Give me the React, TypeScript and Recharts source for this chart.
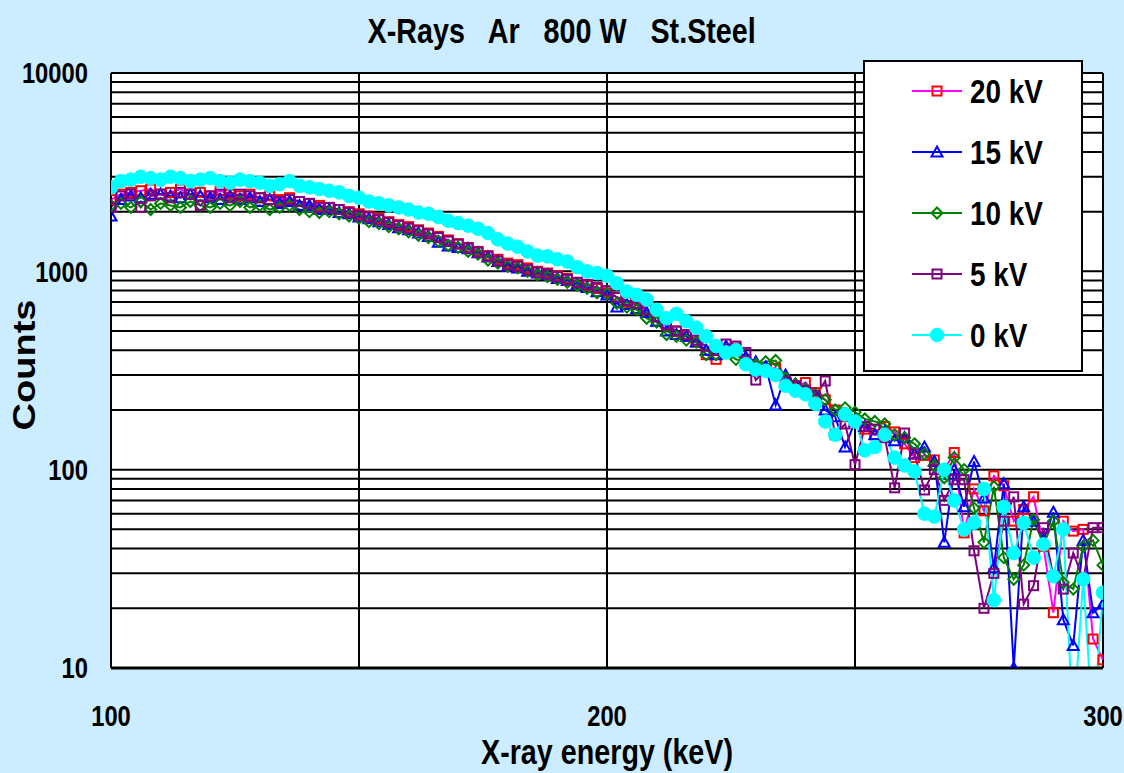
import { CartesianGrid, Label, Legend, Line, LineChart, XAxis, YAxis } from "recharts";

// Energy channels (keV) and measured counts for each bias voltage
const energyKeV = [
  100, 102, 104, 106, 108, 110, 112, 114, 116, 118,
  120, 122, 124, 126, 128, 130, 132, 134, 136, 138,
  140, 142, 144, 146, 148, 150, 152, 154, 156, 158,
  160, 162, 164, 166, 168, 170, 172, 174, 176, 178,
  180, 182, 184, 186, 188, 190, 192, 194, 196, 198,
  200, 202, 204, 206, 208, 210, 212, 214, 216, 218,
  220, 222, 224, 226, 228, 230, 232, 234, 236, 238,
  240, 242, 244, 246, 248, 250, 252, 254, 256, 258,
  260, 262, 264, 266, 268, 270, 272, 274, 276, 278,
  280, 282, 284, 286, 288, 290, 292, 294, 296, 298,
  300,
];

const counts20kV = [
  2300, 2450, 2500, 2550, 2600, 2450, 2500, 2600, 2450, 2500,
  2400, 2550, 2450, 2400, 2450, 2350, 2400, 2300, 2350, 2250,
  2200, 2150, 2100, 2050, 2000, 1950, 1900, 1850, 1780, 1720,
  1680, 1620, 1560, 1500, 1440, 1380, 1320, 1260, 1200, 1150,
  1100, 1080, 1040, 1000, 980, 950, 920, 880, 850, 820,
  780, 740, 700, 720, 640, 560, 530, 500, 470, 440,
  380, 360, 400, 410, 360, 330, 320, 325, 270, 260,
  275, 245, 225, 200, 185, 175, 160, 150, 165, 155,
  135, 115, 118, 112, 100, 122, 48, 80, 62, 93,
  83, 55, 63, 73, 41, 19, 55, 49, 50, 14,
  11,
];

const counts15kV = [
  1900, 2300, 2400, 2350, 2450, 2450, 2400, 2350, 2450, 2400,
  2350, 2300, 2400, 2300, 2350, 2250, 2300, 2200, 2250, 2150,
  2150, 2050, 2050, 1980, 1950, 1880, 1840, 1780, 1720, 1660,
  1620, 1560, 1500, 1400, 1340, 1320, 1300, 1240, 1180, 1120,
  1060, 1040, 1000, 980, 960, 920, 900, 860, 830, 790,
  760, 660, 680, 650, 620, 560, 500, 480, 470, 440,
  400, 380, 420, 400, 370, 350, 330, 212, 300, 270,
  255, 240, 200, 185, 130, 175, 165, 150, 155, 140,
  145, 120, 130, 110, 43, 100, 65, 110, 72, 32,
  85, 10, 65, 55, 44, 61, 17.5, 13, 44, 19,
  21,
];

const counts10kV = [
  2150, 2200, 2100, 2250, 2050, 2200, 2150, 2100, 2250, 2150,
  2100, 2200, 2150, 2250, 2100, 2150, 2050, 2100, 2150, 2050,
  2000, 1980, 2000, 1950, 1900, 1850, 1780, 1740, 1680, 1640,
  1580, 1520, 1480, 1420, 1350, 1320, 1260, 1220, 1140, 1100,
  1060, 1040, 1000, 960, 940, 910, 880, 850, 820, 780,
  770, 690, 660, 640, 580, 555, 480, 470, 450, 440,
  380, 380, 390, 360, 350, 340, 350, 355, 290, 270,
  255, 240, 225, 200, 205, 195, 180, 175, 170, 150,
  145, 135, 120, 105, 91, 115, 100, 64, 43, 82,
  36, 28, 33, 56, 42, 55, 27, 25, 41, 44,
  33,
];

const counts5kV = [
  2100, 2400, 2450, 2100, 2400, 2450, 2350, 2500, 2450, 2150,
  2400, 2450, 2350, 2450, 2400, 2350, 2300, 2250, 2300, 2250,
  2200, 2100, 2100, 2050, 1980, 1920, 1880, 1820, 1760, 1700,
  1650, 1600, 1540, 1480, 1420, 1370, 1310, 1250, 1190, 1130,
  1080, 1060, 1020, 990, 970, 940, 910, 880, 860, 830,
  800, 740, 710, 690, 640, 590, 540, 500, 480, 450,
  420, 400, 430, 420, 390, 283, 320, 305, 280, 265,
  250, 235, 280, 150, 170, 106, 165, 160, 145, 81,
  153, 120, 79, 100, 70, 89, 89, 39, 20, 30,
  55, 73, 21, 26, 51, 29, 25, 38, 28, 51,
  51,
];

// 0 kV: values of 5 are channels that fell to zero (drawn running off the bottom)
const counts0kV = [
  2650, 2850, 2900, 3000, 2950, 2900, 3000, 2950, 2850, 2900,
  2950, 2850, 2800, 2900, 2850, 2800, 2700, 2750, 2850, 2700,
  2650, 2600, 2550, 2500, 2400, 2350, 2250, 2200, 2150, 2100,
  2050, 1980, 1950, 1880, 1800, 1750, 1700, 1640, 1560, 1450,
  1380, 1330, 1260, 1200, 1190, 1150, 1120, 1050, 1000, 980,
  950, 870, 790, 760, 720, 640, 580, 610, 560, 520,
  470, 420, 390, 400, 340, 320, 315, 300, 265, 250,
  240, 215, 175, 150, 190, 175, 125, 130, 150, 115,
  105, 98, 60, 58, 100, 70, 50, 54, 80, 22,
  65, 38, 54, 36, 42, 29, 50, 5, 28, 5,
  24,
];

const yTicks = [
  10, 20, 30, 40, 50, 60, 70, 80, 90,
  100, 200, 300, 400, 500, 600, 700, 800, 900,
  1000, 2000, 3000, 4000, 5000, 6000, 7000, 8000, 9000,
  10000,
];
const yLabelled = [10, 100, 1000, 10000];
const xTicks = [100, 150, 200, 250, 300];
const xLabelled = [100, 200, 300];

type Shape = "square" | "triangle" | "diamond" | "circle";

const SERIES: { key: string; name: string; line: string; marker: string; shape: Shape }[] = [
  { key: "kv20", name: "20 kV", line: "#ff00ff", marker: "#ff0000", shape: "square" },
  { key: "kv15", name: "15 kV", line: "#0000ff", marker: "#0000ff", shape: "triangle" },
  { key: "kv10", name: "10 kV", line: "#008000", marker: "#008000", shape: "diamond" },
  { key: "kv5", name: "5 kV", line: "#800080", marker: "#800080", shape: "square" },
  { key: "kv0", name: "0 kV", line: "#00ffff", marker: "#00ffff", shape: "circle" },
];

const data = energyKeV.map((energy, i) => ({
  energy,
  kv20: counts20kV[i],
  kv15: counts15kV[i],
  kv10: counts10kV[i],
  kv5: counts5kV[i],
  kv0: counts0kV[i],
}));

const FONT = "'Liberation Sans', Arial, sans-serif";
const SQUEEZE = 0.82;

function Marker({ shape, color, cx, cy }: { shape: Shape; color: string; cx: number; cy: number }) {
  if (shape === "square") {
    return <rect x={cx - 4.5} y={cy - 4.5} width={9} height={9} fill="none" stroke={color} strokeWidth={2} />;
  }
  if (shape === "triangle") {
    return (
      <polygon
        points={`${cx},${cy - 5.5} ${cx + 5.5},${cy + 4.5} ${cx - 5.5},${cy + 4.5}`}
        fill="none"
        stroke={color}
        strokeWidth={2}
      />
    );
  }
  if (shape === "diamond") {
    return (
      <polygon
        points={`${cx},${cy - 5.5} ${cx + 5.5},${cy} ${cx},${cy + 5.5} ${cx - 5.5},${cy}`}
        fill="none"
        stroke={color}
        strokeWidth={2}
      />
    );
  }
  return <circle cx={cx} cy={cy} r={6.8} fill={color} stroke={color} strokeWidth={1} />;
}

function XTick(props: any) {
  const { x, y, payload } = props;
  if (!xLabelled.includes(payload.value)) return null;
  return (
    <g transform={`translate(${x},${y + 56}) scale(${SQUEEZE},1)`}>
      <text textAnchor="middle" fontSize={29} fontWeight="bold" fontFamily={FONT} fill="#000">
        {payload.value}
      </text>
    </g>
  );
}

function YTick(props: any) {
  const { x, y, payload } = props;
  if (!yLabelled.includes(payload.value)) return null;
  return (
    <g transform={`translate(${x},${y}) scale(${SQUEEZE},1)`}>
      <text textAnchor="end" dy="0.355em" fontSize={29} fontWeight="bold" fontFamily={FONT} fill="#000">
        {payload.value}
      </text>
    </g>
  );
}

function LegendBox() {
  return (
    <div
      style={{
        position: "relative",
        width: 220,
        height: 312,
        boxSizing: "border-box",
        border: "2px solid #000",
        background: "#fff",
        fontFamily: FONT,
      }}
    >
      {SERIES.map((s, i) => (
        <div
          key={s.key}
          style={{
            position: "absolute",
            left: 0,
            top: 29 + i * 61 - 20,
            height: 40,
            display: "flex",
            alignItems: "center",
          }}
        >
          <svg width={50} height={20} style={{ marginLeft: 47 }}>
            <line x1={0} y1={10} x2={50} y2={10} stroke={s.line} strokeWidth={2} />
            <Marker shape={s.shape} color={s.marker} cx={25} cy={10} />
          </svg>
          <span
            style={{
              display: "inline-block",
              marginLeft: 8,
              fontSize: 34,
              lineHeight: "40px",
              fontWeight: "bold",
              whiteSpace: "nowrap",
              transform: `scaleX(${SQUEEZE})`,
              transformOrigin: "left center",
            }}
          >
            {s.name}
          </span>
        </div>
      ))}
    </div>
  );
}

export default function App() {
  return (
    <div
      style={{
        position: "absolute",
        left: 0,
        top: 0,
        width: 1124,
        height: 773,
        background: "#ccecff",
        overflow: "hidden",
      }}
    >
      <div
        style={{
          position: "absolute",
          left: 0,
          top: 11,
          width: 1124,
          textAlign: "center",
          fontFamily: FONT,
          fontWeight: "bold",
          fontSize: 35,
          lineHeight: "40px",
        }}
      >
        <span style={{ display: "inline-block", whiteSpace: "pre", transform: `scaleX(${SQUEEZE})` }}>
          {"X-Rays   Ar   800 W   St.Steel"}
        </span>
      </div>

      <LineChart width={1124} height={773} data={data} margin={{ top: 73, right: 21, bottom: 5, left: 0 }}>
        <CartesianGrid stroke="#000" strokeWidth={2} fill="#fff" fillOpacity={1} />
        <XAxis
          dataKey="energy"
          type="number"
          domain={[100, 300]}
          ticks={xTicks}
          interval={0}
          allowDataOverflow
          height={100}
          tickSize={0}
          tickLine={false}
          axisLine={{ stroke: "#000", strokeWidth: 3 }}
          tick={<XTick />}
        >
          <Label
            content={(p: any) => {
              const vb = p.viewBox;
              return (
                <g transform={`translate(${vb.x + vb.width / 2},${vb.y + 96}) scale(${SQUEEZE},1)`}>
                  <text textAnchor="middle" fontSize={35} fontWeight="bold" fontFamily={FONT} fill="#000">
                    X-ray energy (keV)
                  </text>
                </g>
              );
            }}
          />
        </XAxis>
        <YAxis
          type="number"
          scale="log"
          domain={[10, 10000]}
          ticks={yTicks}
          interval={0}
          allowDataOverflow
          width={111}
          tickSize={0}
          tickMargin={23}
          tickLine={false}
          axisLine={{ stroke: "#000", strokeWidth: 2 }}
          tick={<YTick />}
        >
          <Label
            content={() => (
              <g transform={`translate(35,365) scale(${SQUEEZE},1) rotate(-90)`}>
                <text textAnchor="middle" fontSize={38} fontWeight="bold" fontFamily={FONT} fill="#000">
                  Counts
                </text>
              </g>
            )}
          />
        </YAxis>
        <Legend
          layout="vertical"
          align="center"
          verticalAlign="middle"
          wrapperStyle={{ left: 863, top: 60, width: 220, height: 312 }}
          content={() => <LegendBox />}
        />
        {SERIES.map((s) => (
          <Line
            key={s.key}
            dataKey={s.key}
            name={s.name}
            type="linear"
            stroke={s.line}
            strokeWidth={2}
            isAnimationActive={false}
            activeDot={false}
            dot={(p: any) =>
              p.cx == null || p.cy == null ? (
                <g key={`${s.key}-${p.index}`} />
              ) : (
                <Marker key={`${s.key}-${p.index}`} shape={s.shape} color={s.marker} cx={p.cx} cy={p.cy} />
              )
            }
          />
        ))}
      </LineChart>
    </div>
  );
}
